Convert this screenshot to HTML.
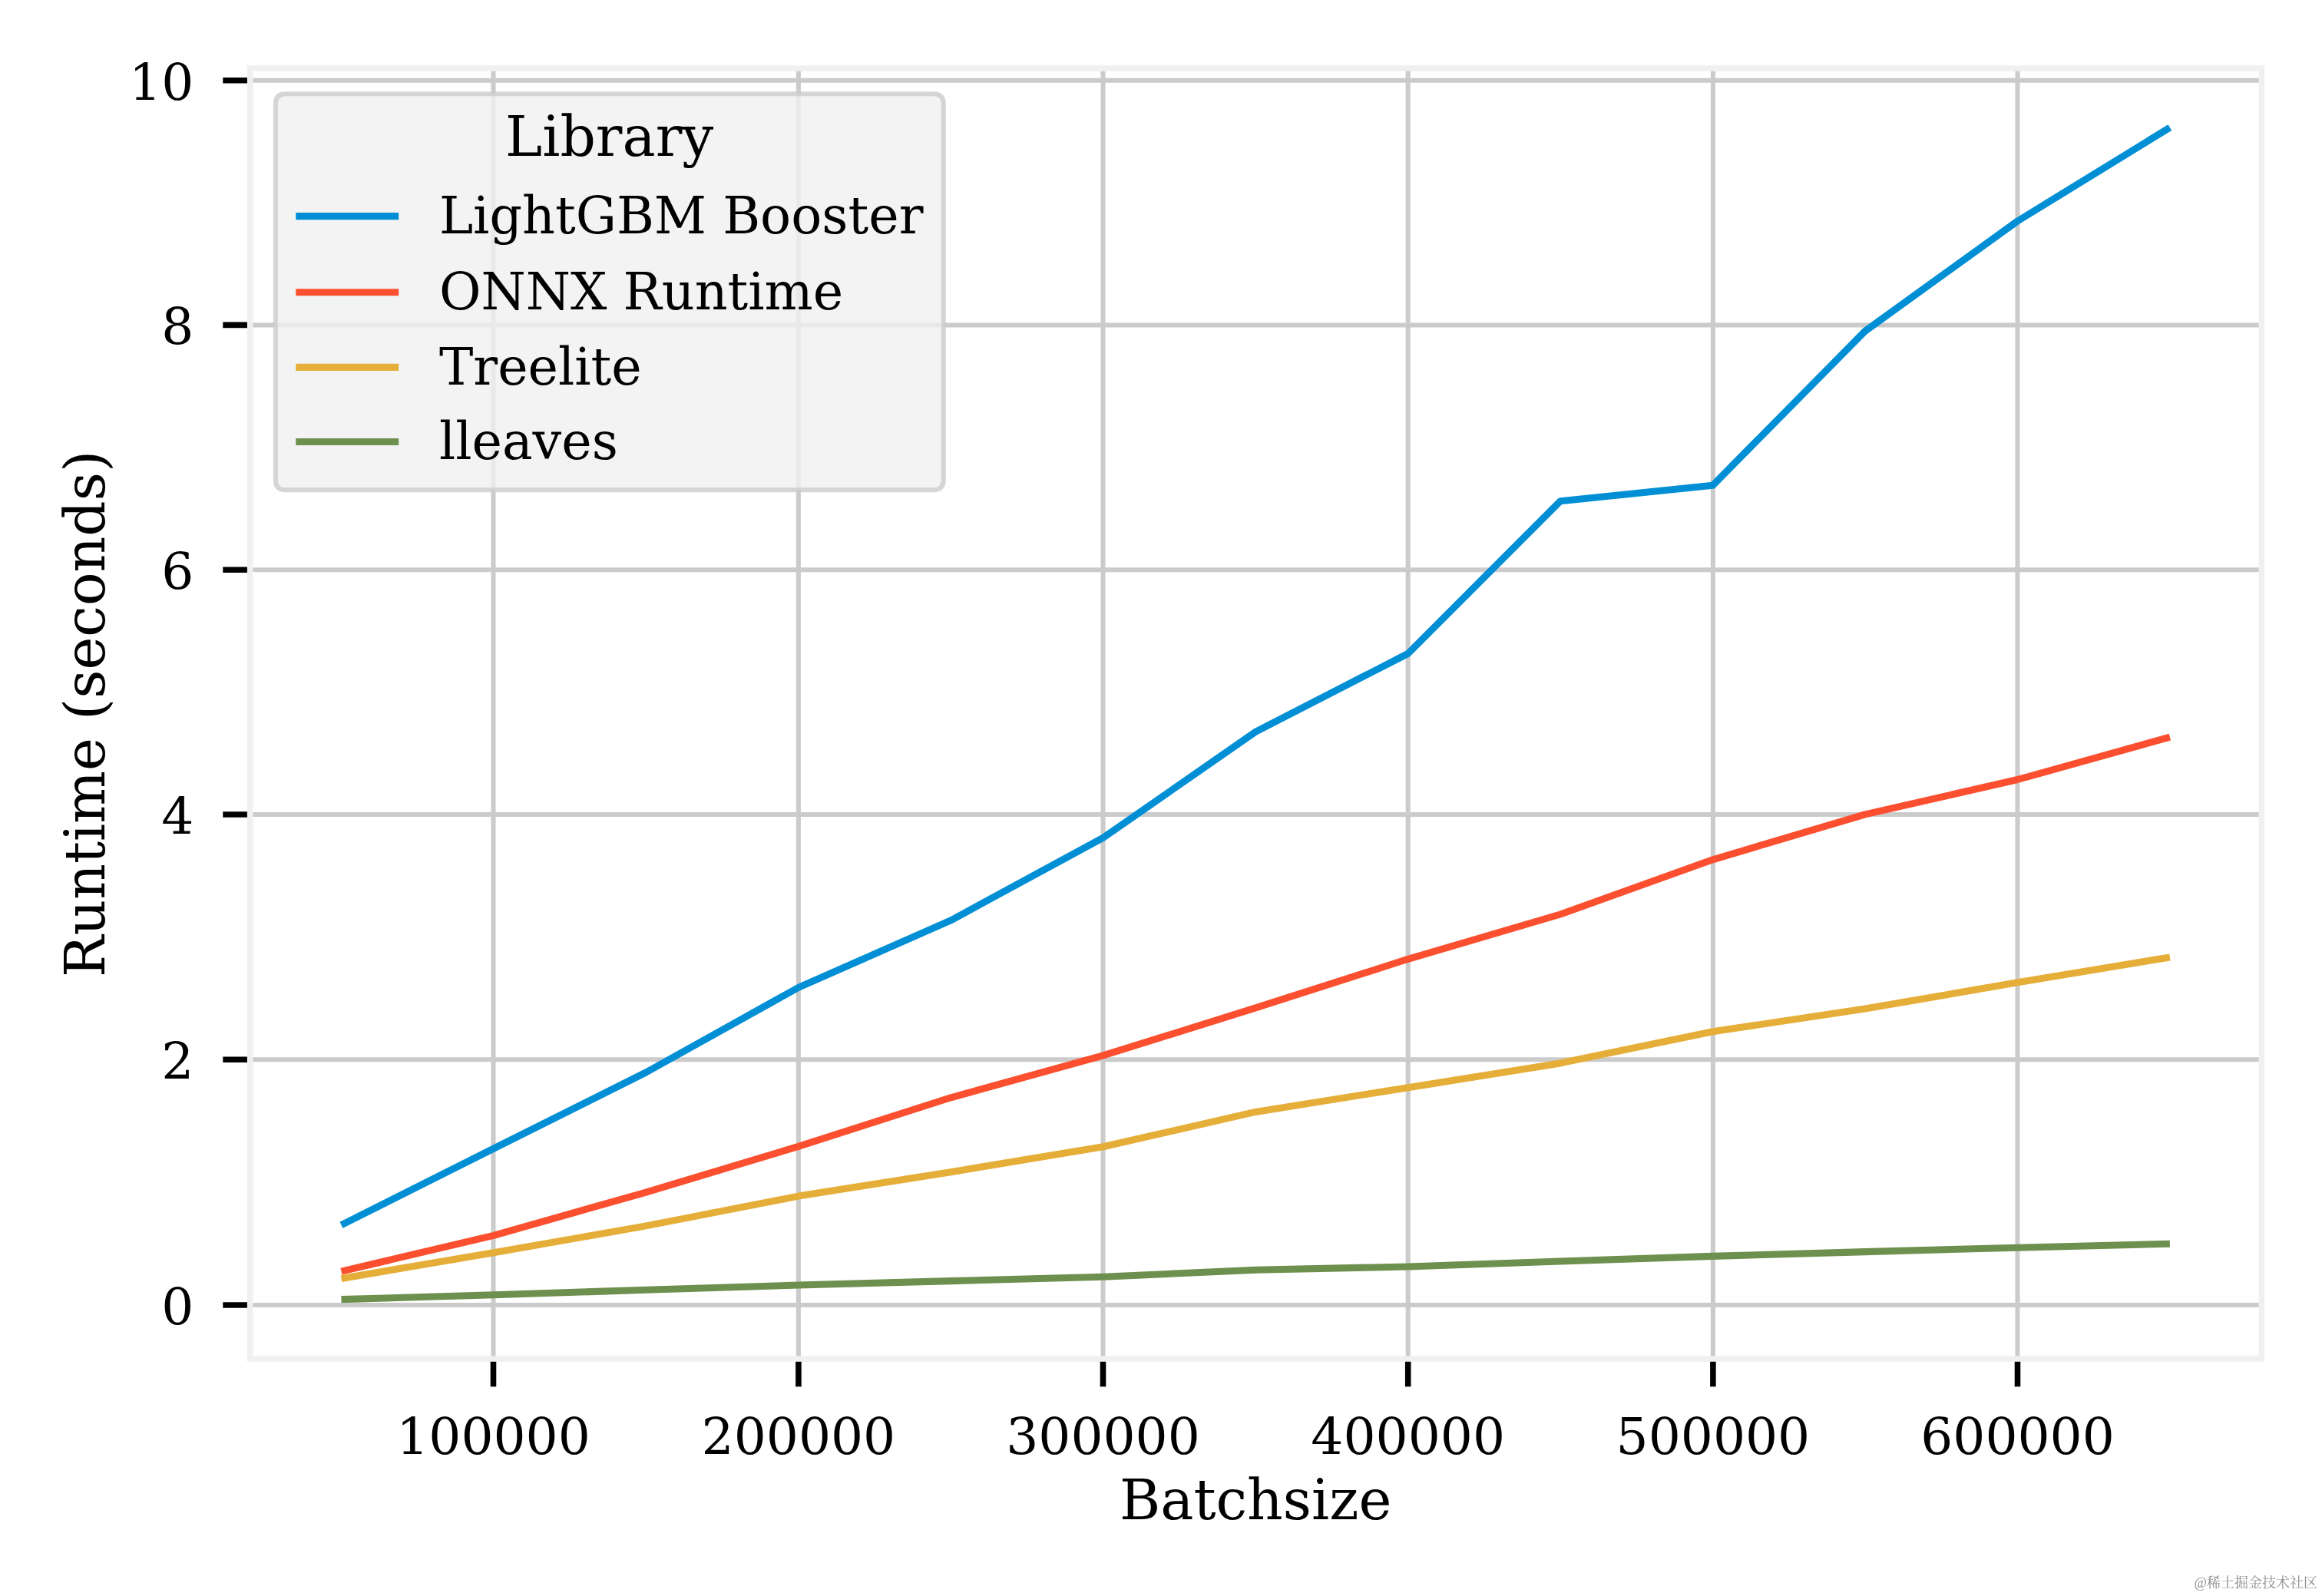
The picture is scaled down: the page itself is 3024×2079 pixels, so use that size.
<!DOCTYPE html>
<html lang="en"><head><meta charset="utf-8"><title>Runtime vs Batchsize</title>
<style>html,body{margin:0;padding:0;background:#fff}body{width:3024px;height:2079px}svg{display:block}text{font-family:'DejaVu Serif','Liberation Serif',serif;fill:#000}</style>
</head><body>
<svg width="3024" height="2079" viewBox="0 0 3024 2079">
<rect x="0" y="0" width="3024" height="2079" fill="#ffffff"/>
<defs><filter id="gs" x="-5%" y="-20%" width="110%" height="140%" color-interpolation-filters="sRGB"><feColorMatrix type="saturate" values="0"/></filter></defs>
<g stroke="#cbcbcb" stroke-width="6.05" fill="none">
<line x1="642.5" y1="89.0" x2="642.5" y2="1770.0"/>
<line x1="1039.9" y1="89.0" x2="1039.9" y2="1770.0"/>
<line x1="1436.5" y1="89.0" x2="1436.5" y2="1770.0"/>
<line x1="1833.7" y1="89.0" x2="1833.7" y2="1770.0"/>
<line x1="2230.9" y1="89.0" x2="2230.9" y2="1770.0"/>
<line x1="2627.5" y1="89.0" x2="2627.5" y2="1770.0"/>
<line x1="325.7" y1="1700.0" x2="2945.4" y2="1700.0"/>
<line x1="325.7" y1="1380.3" x2="2945.4" y2="1380.3"/>
<line x1="325.7" y1="1061.0" x2="2945.4" y2="1061.0"/>
<line x1="325.7" y1="742.3" x2="2945.4" y2="742.3"/>
<line x1="325.7" y1="423.4" x2="2945.4" y2="423.4"/>
<line x1="325.7" y1="104.7" x2="2945.4" y2="104.7"/>
</g>
<g stroke="#000000" stroke-width="7.57" fill="none">
<line x1="642.5" y1="1770.0" x2="642.5" y2="1806.3"/>
<line x1="1039.9" y1="1770.0" x2="1039.9" y2="1806.3"/>
<line x1="1436.5" y1="1770.0" x2="1436.5" y2="1806.3"/>
<line x1="1833.7" y1="1770.0" x2="1833.7" y2="1806.3"/>
<line x1="2230.9" y1="1770.0" x2="2230.9" y2="1806.3"/>
<line x1="2627.5" y1="1770.0" x2="2627.5" y2="1806.3"/>
<line x1="290.3" y1="1700.0" x2="325.7" y2="1700.0"/>
<line x1="290.3" y1="1380.3" x2="325.7" y2="1380.3"/>
<line x1="290.3" y1="1061.0" x2="325.7" y2="1061.0"/>
<line x1="290.3" y1="742.3" x2="325.7" y2="742.3"/>
<line x1="290.3" y1="423.4" x2="325.7" y2="423.4"/>
<line x1="290.3" y1="104.7" x2="325.7" y2="104.7"/>
</g>
<g fill="none" stroke-width="9.08" stroke-linejoin="round" stroke-linecap="butt">
<polyline stroke="#008fd5" points="444.5,1595.7 642.9,1496.1 841.4,1396.9 1039.8,1286.4 1238.3,1198.9 1436.7,1091.2 1635.2,953.3 1833.7,851.4 2032.1,652.7 2230.6,632.2 2429.0,431.3 2627.5,288.0 2825.9,166.1"/>
<polyline stroke="#fc4f30" points="444.5,1656.2 642.9,1609.3 841.4,1553.1 1039.8,1493.4 1238.3,1429.8 1436.7,1374.9 1635.2,1312.9 1833.7,1249.3 2032.1,1191.0 2230.6,1119.8 2429.0,1060.9 2627.5,1015.5 2825.9,960.1"/>
<polyline stroke="#e5ae38" points="444.5,1665.5 642.9,1631.8 841.4,1596.9 1039.8,1558.1 1238.3,1526.7 1436.7,1493.8 1635.2,1448.4 1833.7,1416.7 2032.1,1384.9 2230.6,1343.8 2429.0,1314.0 2627.5,1279.8 2825.9,1246.9"/>
<polyline stroke="#6d904f" points="444.5,1692.6 642.9,1686.8 841.4,1680.2 1039.8,1674.0 1238.3,1668.6 1436.7,1663.2 1635.2,1654.3 1833.7,1650.0 2032.1,1643.0 2230.6,1636.4 2429.0,1630.6 2627.5,1625.2 2825.9,1620.2"/>
</g>
<rect x="325.7" y="89.0" width="2619.7" height="1681.0" fill="none" stroke="#f0f0f0" stroke-width="7.57"/>
<g font-size="66.2" text-anchor="middle">
<text x="642.5" y="1894.0">100000</text>
<text x="1039.9" y="1894.0">200000</text>
<text x="1436.5" y="1894.0">300000</text>
<text x="1833.7" y="1894.0">400000</text>
<text x="2230.9" y="1894.0">500000</text>
<text x="2627.5" y="1894.0">600000</text>
</g>
<g font-size="66.2" text-anchor="end">
<text x="252.3" y="1725.0">0</text>
<text x="252.3" y="1405.3">2</text>
<text x="252.3" y="1086.0">4</text>
<text x="252.3" y="767.3">6</text>
<text x="252.3" y="448.4">8</text>
<text x="252.3" y="129.7">10</text>
</g>
<text x="1635.1" y="1979.0" font-size="72.5" text-anchor="middle">Batchsize</text>
<text transform="translate(136.2,929.9) rotate(-90)" font-size="72.5" text-anchor="middle">Runtime (seconds)</text>
<path d="M372.1,122.3 L1215.5,122.3 Q1228.8,122.3 1228.8,135.6 L1228.8,624.9 Q1228.8,638.2 1215.5,638.2 L372.1,638.2 Q358.8,638.2 358.8,624.9 L358.8,135.6 Q358.8,122.3 372.1,122.3 Z" fill="#f0f0f0" fill-opacity="0.8" stroke="#cccccc" stroke-opacity="0.8" stroke-width="6.05" stroke-linejoin="round"/>
<text x="793.7" y="203.0" font-size="72.5" text-anchor="middle">Library</text>
<line x1="385.3" y1="281.6" x2="519.2" y2="281.6" stroke="#008fd5" stroke-width="9.08"/>
<text x="571.9" y="304.2" font-size="66.6">LightGBM Booster</text>
<line x1="385.3" y1="380.7" x2="519.2" y2="380.7" stroke="#fc4f30" stroke-width="9.08"/>
<text x="571.9" y="403.3" font-size="66.6">ONNX Runtime</text>
<line x1="385.3" y1="478.4" x2="519.2" y2="478.4" stroke="#e5ae38" stroke-width="9.08"/>
<text x="571.9" y="501.0" font-size="66.6">Treelite</text>
<line x1="385.3" y1="575.5" x2="519.2" y2="575.5" stroke="#6d904f" stroke-width="9.08"/>
<text x="571.9" y="598.1" font-size="66.6">lleaves</text>
<g filter="url(#gs)"><text x="3018" y="2068.4" font-size="18" text-anchor="end" style="font-family:'Liberation Serif','Noto Serif CJK SC',serif;fill:#8e8e8e">@稀土掘金技术社区</text></g>
</svg>
</body></html>
